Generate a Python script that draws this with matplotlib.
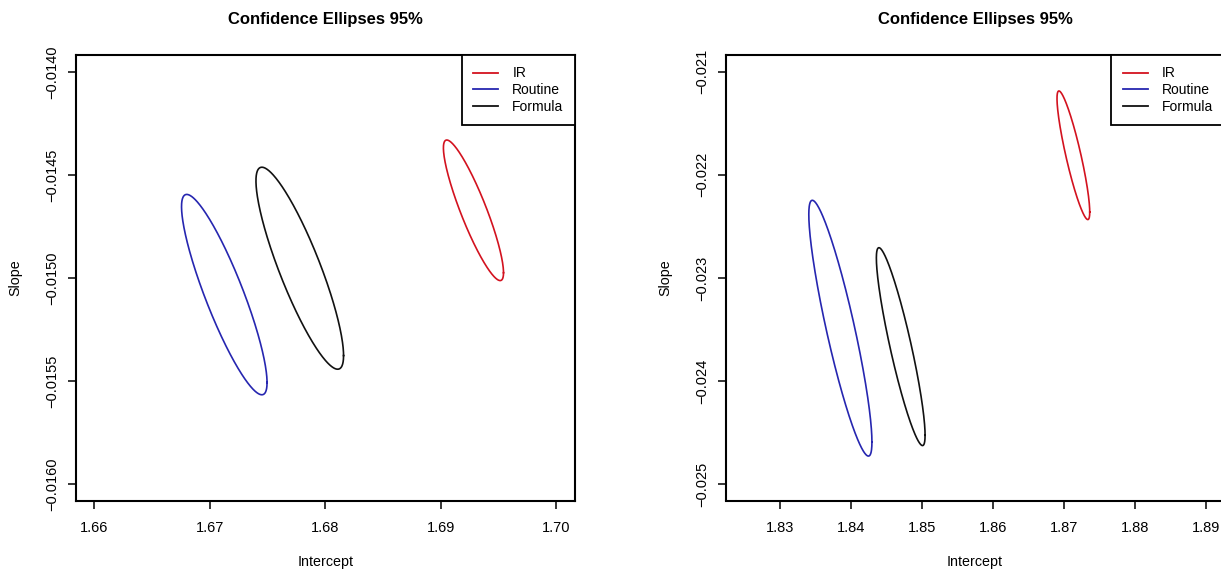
import numpy as np
import matplotlib
matplotlib.use("Agg")
import matplotlib.pyplot as plt
from matplotlib.lines import Line2D

plt.rcParams["font.family"] = ["Liberation Sans", "DejaVu Sans"]

groups = ["IR", "Routine", "Formula"]
colors = ["#d3121f", "#2626b0", "#111111"]

# Panel 1: ellipse centres, half-extents and correlation for each group
p1_cx = [1.69282, 1.67126, 1.67779]
p1_cy = [-0.014672, -0.015081, -0.014953]
p1_hx = [0.00260, 0.00370, 0.00379]
p1_hy = [0.000341, 0.000486, 0.000490]
p1_r = [-0.888, -0.878, -0.865]
p1_xticks = [1.66, 1.67, 1.68, 1.69, 1.70]
p1_xlabels = ["1.66", "1.67", "1.68", "1.69", "1.70"]
p1_yticks = [-0.0140, -0.0145, -0.0150, -0.0155, -0.0160]
p1_ylabels = ["\u22120.0140", "\u22120.0145", "\u22120.0150", "\u22120.0155", "\u22120.0160"]

# Panel 2
p2_cx = [1.871275, 1.83846, 1.84696]
p2_cy = [-0.021810, -0.023488, -0.023667]
p2_hx = [0.002305, 0.004445, 0.003430]
p2_hy = [0.000624, 0.001241, 0.000960]
p2_r = [-0.883, -0.889, -0.895]
p2_xticks = [1.83, 1.84, 1.85, 1.86, 1.87, 1.88, 1.89]
p2_xlabels = ["1.83", "1.84", "1.85", "1.86", "1.87", "1.88", "1.89"]
p2_yticks = [-0.021, -0.022, -0.023, -0.024, -0.025]
p2_ylabels = ["\u22120.021", "\u22120.022", "\u22120.023", "\u22120.024", "\u22120.025"]

W, H = 1221, 570
fig = plt.figure(figsize=(W / 100, H / 100), dpi=100)

box_w = (574.7 - 75.9) / W
box_b = (H - 500.5) / H
box_h = (500.5 - 55.3) / H
ax1 = fig.add_axes([75.9 / W, box_b, box_w, box_h])
ax2 = fig.add_axes([725.7 / W, box_b, box_w, box_h])


def ellipse(ax, cx, cy, hx, hy, r, color):
    t = np.linspace(0, 2 * np.pi, 400)
    x = cx + hx * np.cos(t)
    y = cy + hy * (r * np.cos(t) - np.sqrt(1 - r ** 2) * np.sin(t))
    ax.plot(x, y, color=color, lw=1.2)


def panel(ax, cx, cy, hx, hy, r, xt, xl, yt, yl, xlim, ylim):
    for i in range(len(groups)):
        ellipse(ax, cx[i], cy[i], hx[i], hy[i], r[i], colors[i])
    ax.set_xlim(*xlim)
    ax.set_ylim(*ylim)
    ax.set_xticks(xt)
    ax.set_xticklabels(xl)
    ax.set_yticks(yt)
    ax.set_yticklabels(yl, rotation=90, va="center")
    ax.tick_params(axis="both", length=6, width=1.1, labelsize=10.5,
                   color="black", direction="out")
    ax.tick_params(axis="x", pad=9)
    ax.tick_params(axis="y", pad=6)
    for s in ax.spines.values():
        s.set_linewidth(1.5)
    ax.set_title("Confidence Ellipses 95%", fontsize=12, fontweight="bold",
                 y=(500.5 - 20) / 445.2, va="center", pad=0)
    ax.set_xlabel("Intercept", fontsize=10.3)
    ax.xaxis.set_label_coords(0.5, (500.5 - 561.6) / 445.2)
    ax.xaxis.label.set_verticalalignment("center")
    ax.set_ylabel("Slope", fontsize=10.3)
    ax.yaxis.set_label_coords(-0.1205, 0.5)
    ax.yaxis.label.set_verticalalignment("center")
    handles = [Line2D([], [], color=c, lw=1.3) for c in colors]
    leg = ax.legend(handles, groups, loc="upper right", borderaxespad=0,
                    fontsize=10, handlelength=1.85, handletextpad=1.0,
                    borderpad=0.8, labelspacing=0.2, fancybox=False,
                    framealpha=1, edgecolor="black")
    leg.get_frame().set_linewidth(1.3)


panel(ax1, p1_cx, p1_cy, p1_hx, p1_hy, p1_r, p1_xticks, p1_xlabels,
      p1_yticks, p1_ylabels, (1.65842, 1.70158), (-0.01608, -0.01392))
panel(ax2, p2_cx, p2_cy, p2_hx, p2_hy, p2_r, p2_xticks, p2_xlabels,
      p2_yticks, p2_ylabels, (1.82231, 1.89256), (-0.02516, -0.02084))

fig.savefig("out.png", dpi=100)
